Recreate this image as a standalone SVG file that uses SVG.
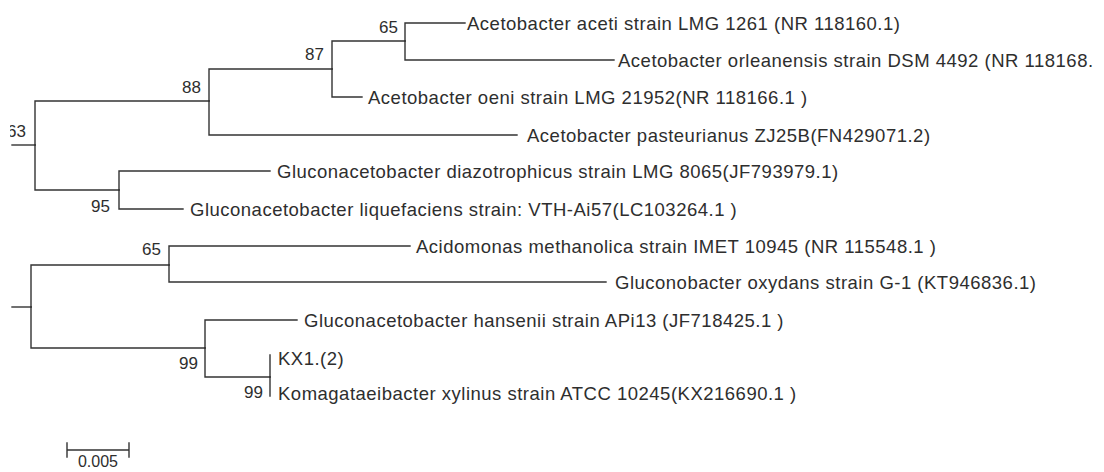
<svg xmlns="http://www.w3.org/2000/svg" width="1104" height="472" viewBox="0 0 1104 472">
  <style>
    .br { fill: none; stroke: #333333; stroke-width: 1.4; stroke-linecap: square; }
    .leaf { font-family: "Liberation Sans", Arial, sans-serif; font-size: 18.5px; letter-spacing: 0.5px; fill: #2e2e2e; }
    .bs { font-family: "Liberation Sans", Arial, sans-serif; font-size: 17px; fill: #2e2e2e; text-anchor: end; }
    .sc { font-family: "Liberation Sans", Arial, sans-serif; font-size: 16px; fill: #2e2e2e; text-anchor: middle; }
  </style>
  <defs>
    <clipPath id="leftclip"><rect x="10" y="0" width="1094" height="472"/></clipPath>
  </defs>
  <rect x="0" y="0" width="1104" height="472" fill="#ffffff"/>

  <g id="connectors">
    <!-- upper clade -->
    <path class="br" d="M12,145 H35"/>
    <path class="br" d="M35,145 V101 H209"/>
    <path class="br" d="M35,145 V190 H119"/>
    <path class="br" d="M209,101 V69 H332"/>
    <path class="br" d="M209,101 V135 H517"/>
    <path class="br" d="M332,69 V41 H405"/>
    <path class="br" d="M332,69 V97 H362"/>
    <path class="br" d="M405,41 V23 H465"/>
    <path class="br" d="M405,41 V60 H614"/>
    <path class="br" d="M119,190 V171 H270"/>
    <path class="br" d="M119,190 V209 H183"/>
    <!-- lower clade -->
    <path class="br" d="M12,307 H31"/>
    <path class="br" d="M31,307 V265 H169"/>
    <path class="br" d="M31,307 V348 H205"/>
    <path class="br" d="M169,265 V246 H410"/>
    <path class="br" d="M169,265 V282 H606"/>
    <path class="br" d="M205,348 V320 H297"/>
    <path class="br" d="M205,348 V377 H270"/>
    <path class="br" d="M270,377 V355"/>
    <path class="br" d="M270,377 V396"/>
  </g>

  <g id="node-root-upper"><text class="bs" x="26" y="137" clip-path="url(#leftclip)">63</text></g>
  <g id="node-88"><text class="bs" x="201" y="93">88</text></g>
  <g id="node-87"><text class="bs" x="324" y="60">87</text></g>
  <g id="node-65a"><text class="bs" x="398" y="33">65</text></g>
  <g id="node-95"><text class="bs" x="110" y="212">95</text></g>
  <g id="node-65b"><text class="bs" x="161" y="255">65</text></g>
  <g id="node-99a"><text class="bs" x="198" y="369">99</text></g>
  <g id="node-99b"><text class="bs" x="263" y="398">99</text></g>

  <g id="leaf-aceti"><text class="leaf" x="467" y="30">Acetobacter aceti strain LMG 1261 (NR 118160.1)</text></g>
  <g id="leaf-orleanensis"><text class="leaf" x="618" y="67">Acetobacter orleanensis strain DSM 4492 (NR 118168.</text></g>
  <g id="leaf-oeni"><text class="leaf" x="368" y="104">Acetobacter oeni strain LMG 21952(NR 118166.1 )</text></g>
  <g id="leaf-pasteurianus"><text class="leaf" x="527" y="142">Acetobacter pasteurianus ZJ25B(FN429071.2)</text></g>
  <g id="leaf-diazotrophicus"><text class="leaf" x="277" y="178">Gluconacetobacter diazotrophicus strain LMG 8065(JF793979.1)</text></g>
  <g id="leaf-liquefaciens"><text class="leaf" x="190" y="216">Gluconacetobacter liquefaciens strain: VTH-Ai57(LC103264.1 )</text></g>
  <g id="leaf-acidomonas"><text class="leaf" x="416" y="253">Acidomonas methanolica strain IMET 10945 (NR 115548.1 )</text></g>
  <g id="leaf-oxydans"><text class="leaf" x="615" y="289">Gluconobacter oxydans strain G-1 (KT946836.1)</text></g>
  <g id="leaf-hansenii"><text class="leaf" x="304" y="327">Gluconacetobacter hansenii strain APi13 (JF718425.1 )</text></g>
  <g id="leaf-kx1"><text class="leaf" x="278" y="365">KX1.(2)</text></g>
  <g id="leaf-xylinus"><text class="leaf" x="278" y="400">Komagataeibacter xylinus strain ATCC 10245(KX216690.1 )</text></g>

  <g id="scale-bar">
    <path class="br" d="M67,450 H129 M67,443 V457 M129,443 V457"/>
    <text class="sc" x="98" y="467">0.005</text>
  </g>
</svg>
